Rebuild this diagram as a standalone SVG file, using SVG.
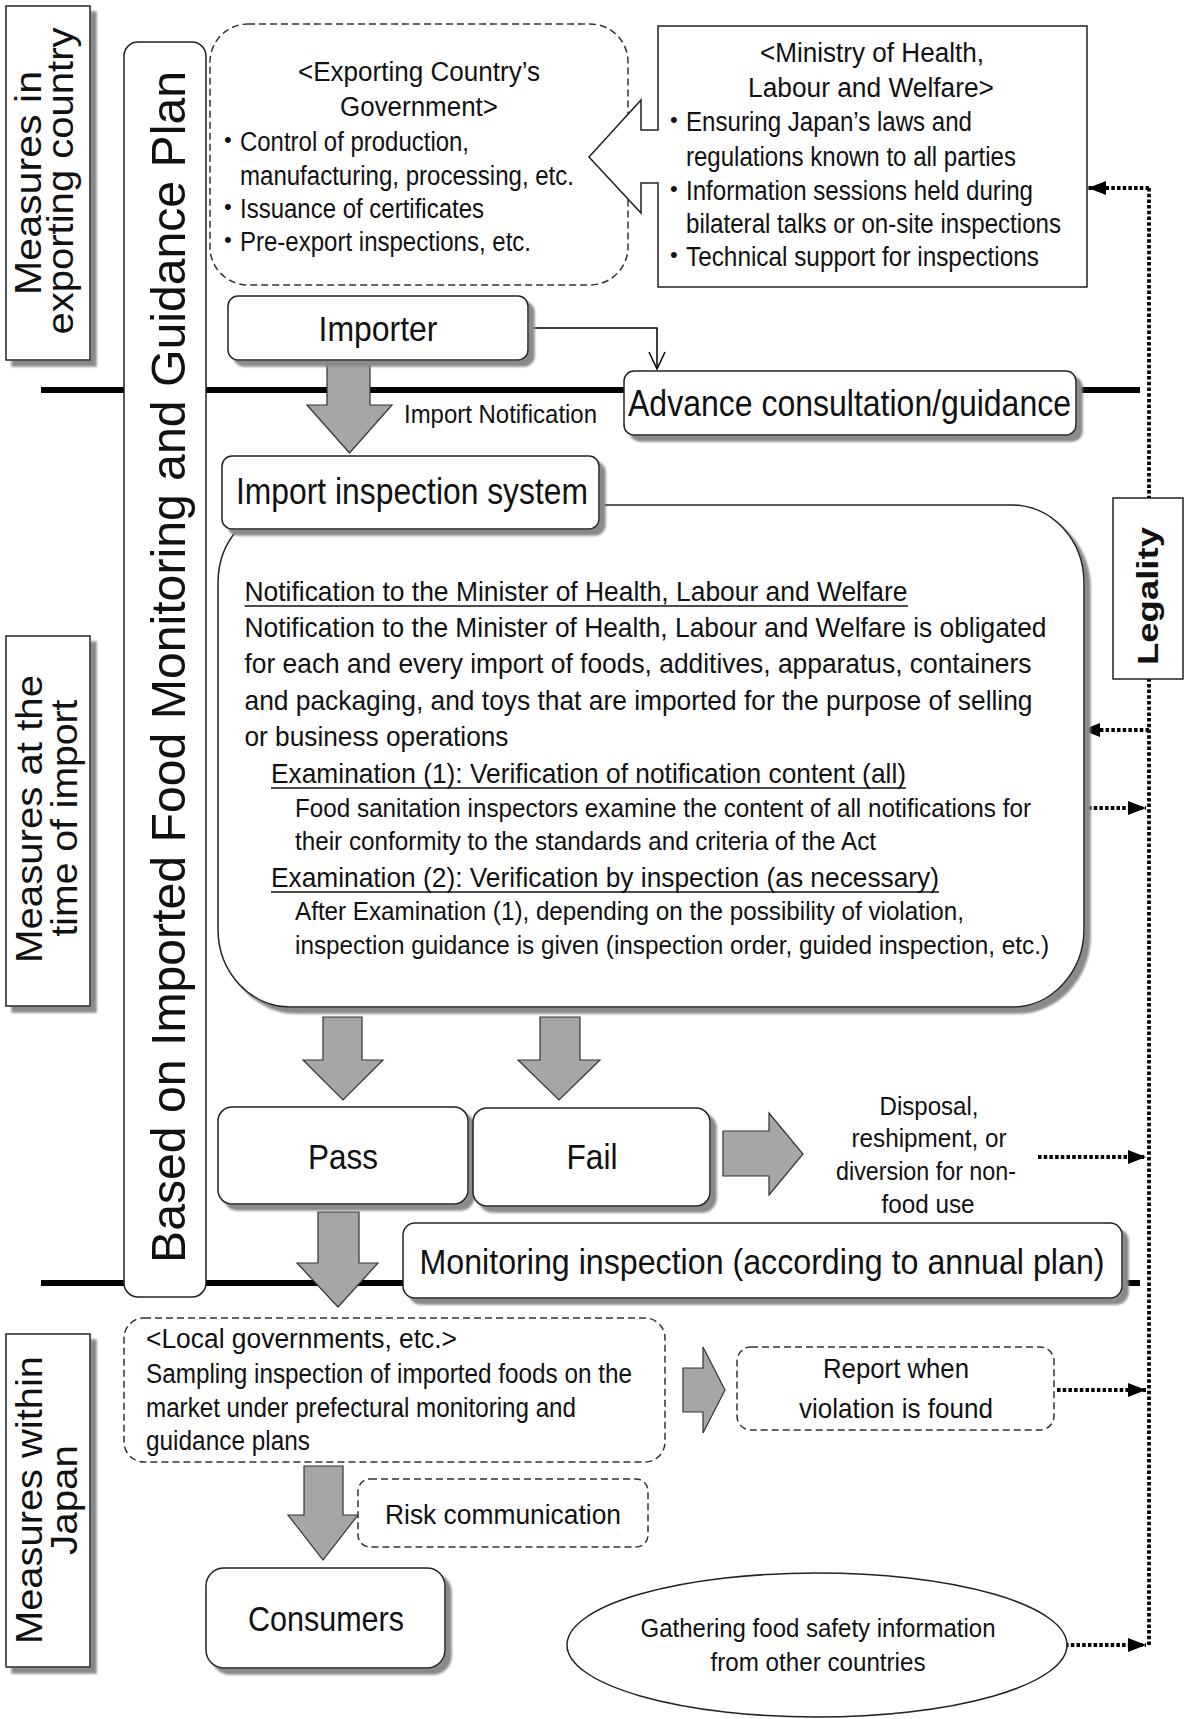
<svg xmlns="http://www.w3.org/2000/svg" width="1184" height="1719" viewBox="0 0 1184 1719">
<defs>
<filter id="sh" x="-20%" y="-20%" width="140%" height="140%"><feDropShadow dx="6" dy="6" stdDeviation="1.2" flood-color="#8a8a8a" flood-opacity="1"/></filter>
<marker id="ah" markerUnits="userSpaceOnUse" markerWidth="20" markerHeight="16" refX="18" refY="7" orient="auto"><path d="M0,0 L18,7 L0,14 z" fill="#000"/></marker>
<marker id="oa" markerUnits="userSpaceOnUse" markerWidth="20" markerHeight="20" refX="9" refY="18" orient="0"><path d="M1,1 L9,18 L17,1" fill="none" stroke="#000" stroke-width="1.5"/></marker>
</defs>
<style>
text { font-family: "Liberation Sans", Arial, sans-serif; fill: #111; }
.box { fill: #fff; stroke: #222; stroke-width: 1.5; }
.dash { fill: #fff; stroke: #333; stroke-width: 1.5; stroke-dasharray: 7 4; }
.garrow { fill: #a6a6a6; stroke: #333; stroke-width: 1.2; }
.thick { stroke: #000; stroke-width: 6; }
.dot { fill: none; stroke: #000; stroke-width: 3.8; stroke-dasharray: 3.5 2.2; }
.ul { stroke: #111; stroke-width: 1.6; }
.rot { text-anchor: middle; }
.bul { font-size: 22px; }
</style>
<rect width="1184" height="1719" fill="#fff"/>

<g id="separators">
<line class="thick" x1="41" y1="390" x2="1140" y2="390"/>
<line class="thick" x1="41" y1="1283" x2="1140" y2="1283"/>
</g>

<g id="connectors">
<path class="dot" d="M1149,188 V1645"/>
<path class="dot" d="M1149,188 H1088" marker-end="url(#ah)"/>
<path class="dot" d="M1149,730 H1082" marker-end="url(#ah)"/>
<path class="dot" d="M1088,808 H1146" marker-end="url(#ah)"/>
<path class="dot" d="M1038,1157 H1146" marker-end="url(#ah)"/>
<path class="dot" d="M1057,1390 H1146" marker-end="url(#ah)"/>
<path class="dot" d="M1048,1645 H1146" marker-end="url(#ah)"/>
<path d="M528,328 H657 V369" fill="none" stroke="#000" stroke-width="1.5" marker-end="url(#oa)"/>
<polygon class="garrow" points="327,361 370,361 370,405 392,405 349.5,453 307,405 327,405"/>
<text x="404" y="423" font-size="25.5" textLength="193" lengthAdjust="spacingAndGlyphs">Import Notification</text>
<polygon class="garrow" points="323,1017 362,1017 362,1060 383,1060 343,1100 303,1060 323,1060"/>
<polygon class="garrow" points="540,1017 580,1017 580,1060 600,1060 559,1100 518,1060 540,1060"/>
<polygon class="garrow" points="723,1131 769,1131 769,1113 803,1154 769,1195 769,1176 723,1176"/>
<polygon class="garrow" points="318,1212 359,1212 359,1263 378,1263 338,1307 297,1263 318,1263"/>
<polygon class="garrow" points="683,1368 703,1368 703,1347 725,1390 703,1433 703,1412 683,1412"/>
<polygon class="garrow" points="304,1466 343,1466 343,1515 358,1515 323,1560 288,1515 304,1515"/>
</g>

<g id="label-exporting">
<rect class="box" x="6" y="6" width="84" height="354" filter="url(#sh)"/>
<text class="rot" transform="translate(41,183) rotate(-90)" font-size="37" textLength="224" lengthAdjust="spacingAndGlyphs">Measures in</text>
<text class="rot" transform="translate(73,181) rotate(-90)" font-size="37" textLength="307" lengthAdjust="spacingAndGlyphs">exporting country</text>
</g>
<g id="label-import">
<rect class="box" x="6" y="636" width="84" height="370" filter="url(#sh)"/>
<text class="rot" transform="translate(42,819) rotate(-90)" font-size="37" textLength="288" lengthAdjust="spacingAndGlyphs">Measures at the</text>
<text class="rot" transform="translate(77,818) rotate(-90)" font-size="37" textLength="237" lengthAdjust="spacingAndGlyphs">time of import</text>
</g>
<g id="label-japan">
<rect class="box" x="6" y="1334" width="84" height="333" filter="url(#sh)"/>
<text class="rot" transform="translate(42,1500) rotate(-90)" font-size="37" textLength="288" lengthAdjust="spacingAndGlyphs">Measures within</text>
<text class="rot" transform="translate(77,1500) rotate(-90)" font-size="37" textLength="110" lengthAdjust="spacingAndGlyphs">Japan</text>
</g>

<g id="plan">
<rect class="box" x="124" y="42" width="82" height="1255" rx="14"/>
<text class="rot" transform="translate(185,667) rotate(-90)" font-size="48" textLength="1192" lengthAdjust="spacingAndGlyphs">Based on Imported Food Monitoring and Guidance Plan</text>
</g>

<g id="exporting-gov">
<rect class="dash" x="210" y="24" width="418" height="261" rx="38"/>
<text x="419" y="81" font-size="27" text-anchor="middle" textLength="242" lengthAdjust="spacingAndGlyphs">&lt;Exporting Country’s</text>
<text x="419" y="116" font-size="27" text-anchor="middle" textLength="158" lengthAdjust="spacingAndGlyphs">Government&gt;</text>
<text class="bul" x="224" y="147">•</text>
<text x="240" y="151" font-size="27" textLength="229" lengthAdjust="spacingAndGlyphs">Control of production,</text>
<text x="240" y="185" font-size="27" textLength="334" lengthAdjust="spacingAndGlyphs">manufacturing, processing, etc.</text>
<text class="bul" x="224" y="214">•</text>
<text x="240" y="218" font-size="27" textLength="244" lengthAdjust="spacingAndGlyphs">Issuance of certificates</text>
<text class="bul" x="224" y="247">•</text>
<text x="240" y="251" font-size="27" textLength="291" lengthAdjust="spacingAndGlyphs">Pre-export inspections, etc.</text>
</g>

<g id="mhlw">
<path class="box" d="M658,26 H1087 V287 H658 V183 H641 V213 L589,157 L641,100 V130 H658 Z"/>
<text x="872" y="62" font-size="27" text-anchor="middle" textLength="224" lengthAdjust="spacingAndGlyphs">&lt;Ministry of Health,</text>
<text x="871" y="97" font-size="27" text-anchor="middle" textLength="246" lengthAdjust="spacingAndGlyphs">Labour and Welfare&gt;</text>
<text class="bul" x="670" y="127">•</text>
<text x="686" y="131" font-size="27" textLength="286" lengthAdjust="spacingAndGlyphs">Ensuring Japan’s laws and</text>
<text x="686" y="166" font-size="27" textLength="330" lengthAdjust="spacingAndGlyphs">regulations known to all parties</text>
<text class="bul" x="670" y="196">•</text>
<text x="686" y="200" font-size="27" textLength="347" lengthAdjust="spacingAndGlyphs">Information sessions held during</text>
<text x="686" y="233" font-size="27" textLength="375" lengthAdjust="spacingAndGlyphs">bilateral talks or on-site inspections</text>
<text class="bul" x="670" y="262">•</text>
<text x="686" y="266" font-size="27" textLength="353" lengthAdjust="spacingAndGlyphs">Technical support for inspections</text>
</g>

<g id="importer">
<rect class="box" x="228" y="296" width="300" height="64" rx="10" filter="url(#sh)"/>
<text x="378" y="341" font-size="35" text-anchor="middle" textLength="119" lengthAdjust="spacingAndGlyphs">Importer</text>
</g>

<g id="advance">
<rect class="box" x="624" y="371" width="452" height="64" rx="10" filter="url(#sh)"/>
<text x="628" y="416" font-size="36" textLength="443" lengthAdjust="spacingAndGlyphs">Advance consultation/guidance</text>
</g>

<g id="inspection-detail">
<rect class="box" x="218" y="505" width="866" height="502" rx="72" ry="78" filter="url(#sh)"/>
<text x="244.5" y="601" font-size="28.5" textLength="663" lengthAdjust="spacingAndGlyphs">Notification to the Minister of Health, Labour and Welfare</text>
<line class="ul" x1="244.5" y1="606" x2="908" y2="606"/>
<text x="244.5" y="637" font-size="28.5" textLength="802" lengthAdjust="spacingAndGlyphs">Notification to the Minister of Health, Labour and Welfare is obligated</text>
<text x="244.5" y="673" font-size="28.5" textLength="787" lengthAdjust="spacingAndGlyphs">for each and every import of foods, additives, apparatus, containers</text>
<text x="244.5" y="710" font-size="28.5" textLength="788" lengthAdjust="spacingAndGlyphs">and packaging, and toys that are imported for the purpose of selling</text>
<text x="244.5" y="746" font-size="28.5" textLength="264" lengthAdjust="spacingAndGlyphs">or business operations</text>
<text x="271" y="783" font-size="28.5" textLength="635" lengthAdjust="spacingAndGlyphs">Examination (1): Verification of notification content (all)</text>
<line class="ul" x1="271" y1="788" x2="906" y2="788"/>
<text x="295" y="817" font-size="26.5" textLength="736" lengthAdjust="spacingAndGlyphs">Food sanitation inspectors examine the content of all notifications for</text>
<text x="295" y="850" font-size="26.5" textLength="581" lengthAdjust="spacingAndGlyphs">their conformity to the standards and criteria of the Act</text>
<text x="271" y="887" font-size="28.5" textLength="668" lengthAdjust="spacingAndGlyphs">Examination (2): Verification by inspection (as necessary)</text>
<line class="ul" x1="271" y1="892" x2="939" y2="892"/>
<text x="295" y="920" font-size="26.5" textLength="669" lengthAdjust="spacingAndGlyphs">After Examination (1), depending on the possibility of violation,</text>
<text x="295" y="954" font-size="26.5" textLength="754" lengthAdjust="spacingAndGlyphs">inspection guidance is given (inspection order, guided inspection, etc.)</text>
</g>

<g id="inspection-system">
<rect class="box" x="222" y="456" width="377" height="73" rx="10" filter="url(#sh)"/>
<text x="236" y="504" font-size="36" textLength="352" lengthAdjust="spacingAndGlyphs">Import inspection system</text>
</g>

<g id="pass">
<rect class="box" x="218" y="1107" width="250" height="97" rx="14" filter="url(#sh)"/>
<text x="343" y="1169" font-size="35" text-anchor="middle" textLength="70" lengthAdjust="spacingAndGlyphs">Pass</text>
</g>
<g id="fail">
<rect class="box" x="473" y="1108" width="237" height="98" rx="14" filter="url(#sh)"/>
<text x="592" y="1169" font-size="35" text-anchor="middle" textLength="51" lengthAdjust="spacingAndGlyphs">Fail</text>
</g>

<g id="disposal">
<text x="929" y="1115" font-size="26.5" text-anchor="middle" textLength="99" lengthAdjust="spacingAndGlyphs">Disposal,</text>
<text x="929" y="1147" font-size="26.5" text-anchor="middle" textLength="155" lengthAdjust="spacingAndGlyphs">reshipment, or</text>
<text x="926" y="1180" font-size="26.5" text-anchor="middle" textLength="180" lengthAdjust="spacingAndGlyphs">diversion for non-</text>
<text x="928" y="1213" font-size="26.5" text-anchor="middle" textLength="93" lengthAdjust="spacingAndGlyphs">food use</text>
</g>

<g id="monitoring">
<rect class="box" x="403" y="1223" width="719" height="75" rx="12" filter="url(#sh)"/>
<text x="762" y="1274" font-size="35" text-anchor="middle" textLength="685" lengthAdjust="spacingAndGlyphs">Monitoring inspection (according to annual plan)</text>
</g>

<g id="local-gov">
<rect class="dash" x="124" y="1318" width="541" height="144" rx="20"/>
<text x="146" y="1348" font-size="27" textLength="311" lengthAdjust="spacingAndGlyphs">&lt;Local governments, etc.&gt;</text>
<text x="146" y="1383" font-size="27" textLength="486" lengthAdjust="spacingAndGlyphs">Sampling inspection of imported foods on the</text>
<text x="146" y="1417" font-size="27" textLength="430" lengthAdjust="spacingAndGlyphs">market under prefectural monitoring and</text>
<text x="146" y="1450" font-size="27" textLength="164" lengthAdjust="spacingAndGlyphs">guidance plans</text>
</g>

<g id="report">
<rect class="dash" x="737" y="1347" width="317" height="83" rx="14"/>
<text x="896" y="1378" font-size="28" text-anchor="middle" textLength="146" lengthAdjust="spacingAndGlyphs">Report when</text>
<text x="896" y="1418" font-size="28" text-anchor="middle" textLength="194" lengthAdjust="spacingAndGlyphs">violation is found</text>
</g>

<g id="risk">
<rect class="dash" x="358" y="1479" width="290" height="68" rx="12"/>
<text x="503" y="1524" font-size="28" text-anchor="middle" textLength="236" lengthAdjust="spacingAndGlyphs">Risk communication</text>
</g>

<g id="consumers">
<rect class="box" x="206" y="1568" width="239" height="100" rx="18" filter="url(#sh)"/>
<text x="326" y="1631" font-size="35" text-anchor="middle" textLength="156" lengthAdjust="spacingAndGlyphs">Consumers</text>
</g>

<g id="gathering">
<ellipse class="box" cx="817" cy="1645" rx="250" ry="72"/>
<text x="818" y="1637" font-size="26.5" text-anchor="middle" textLength="355" lengthAdjust="spacingAndGlyphs">Gathering food safety information</text>
<text x="818" y="1671" font-size="26.5" text-anchor="middle" textLength="215" lengthAdjust="spacingAndGlyphs">from other countries</text>
</g>

<g id="legality">
<rect class="box" x="1113" y="498" width="70" height="181"/>
<text class="rot" transform="translate(1158,596) rotate(-90)" font-size="29" font-weight="bold" textLength="138" lengthAdjust="spacingAndGlyphs">Legality</text>
</g>
</svg>
